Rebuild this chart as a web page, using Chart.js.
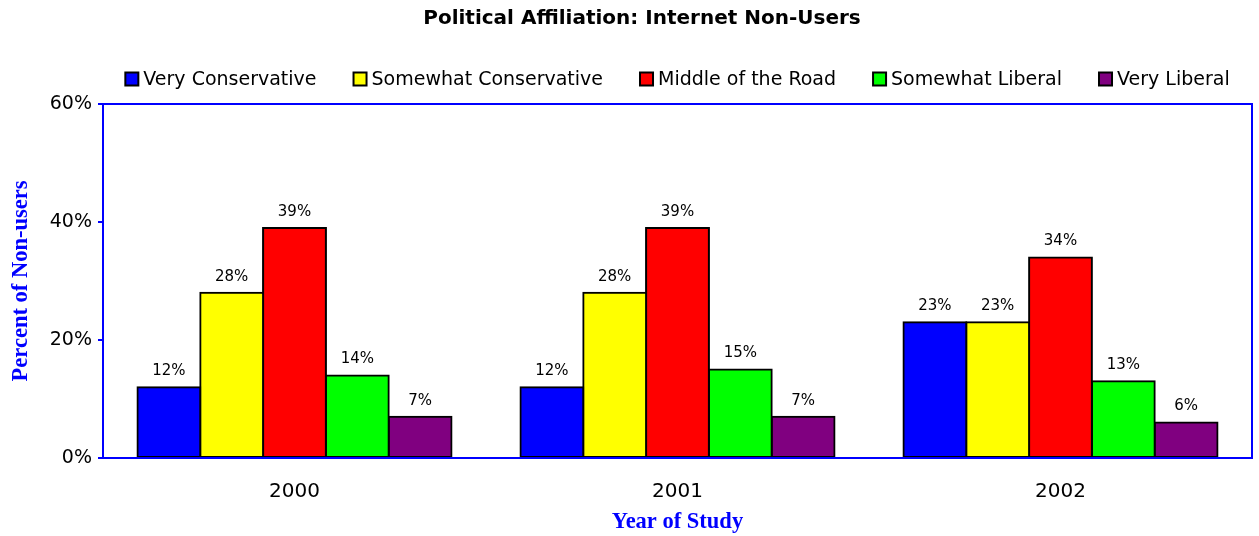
<!DOCTYPE html>
<html>
<head>
<meta charset="utf-8">
<script src="https://cdn.jsdelivr.net/npm/chart.js@4.4.1/dist/chart.umd.min.js"></script>
<style>
  html, body { margin: 0; padding: 0; background: #fff; }
  #wrap { width: 1259px; height: 536px; position: relative; }
</style>
</head>
<body>
<div id="wrap"><canvas id="c"></canvas></div>
<script>
// --- data ---
const years = ['2000', '2001', '2002'];
const seriesNames = ['Very Conservative', 'Somewhat Conservative', 'Middle of the Road', 'Somewhat Liberal', 'Very Liberal'];
const seriesColors = ['#0000ff', '#ffff00', '#ff0000', '#00ff00', '#800080'];
const veryConservative = [12, 12, 23];
const somewhatConservative = [28, 28, 23];
const middleOfRoad = [39, 39, 34];
const somewhatLiberal = [14, 15, 13];
const veryLiberal = [7, 7, 6];
const yTicks = [0, 20, 40, 60];

const TITLE = 'Political Affiliation: Internet Non-Users';
const SANS = '"DejaVu Sans", Verdana, sans-serif';
const SERIF = '"Liberation Serif", "Times New Roman", serif';
const BLUE = '#0000ff';

const values = [veryConservative, somewhatConservative, middleOfRoad, somewhatLiberal, veryLiberal];

// title + legend drawn by hand so they sit where the original puts them
const header = {
  id: 'header',
  afterDraw(chart) {
    const { ctx, chartArea } = chart;
    ctx.save();
    ctx.fillStyle = '#000';
    ctx.textBaseline = 'middle';
    ctx.textAlign = 'center';
    ctx.font = 'bold 20px ' + SANS;
    ctx.fillText(TITLE, 642, 19);

    ctx.font = '19px ' + SANS;
    ctx.textAlign = 'left';
    const box = 13, gapBox = 5, gapItem = 37;
    const widths = chart.data.datasets.map(d => box + gapBox + ctx.measureText(d.label).width);
    const total = widths.reduce((a, b) => a + b, 0) + gapItem * (widths.length - 1);
    let x = (chartArea.left + chartArea.right) / 2 - total / 2;
    const y = 79;
    chart.data.datasets.forEach((d, i) => {
      ctx.fillStyle = d.backgroundColor;
      ctx.fillRect(x, y - box / 2, box, box);
      ctx.lineWidth = 2;
      ctx.strokeStyle = '#000';
      ctx.strokeRect(x, y - box / 2, box, box);
      ctx.fillStyle = '#000';
      ctx.fillText(d.label, x + box + gapBox, y + 1);
      x += widths[i] + gapItem;
    });
    ctx.restore();
  }
};

// value labels above bars + blue frame of the plot area
const extras = {
  id: 'extras',
  afterDatasetsDraw(chart) {
    const { ctx, chartArea } = chart;
    ctx.save();
    ctx.font = '15px ' + SANS;
    ctx.fillStyle = '#000';
    ctx.textAlign = 'center';
    ctx.textBaseline = 'middle';
    chart.data.datasets.forEach((d, i) => {
      chart.getDatasetMeta(i).data.forEach((bar, j) => {
        ctx.fillText(d.data[j] + '%', bar.x, bar.y - 16);
      });
    });
    ctx.strokeStyle = BLUE;
    ctx.lineWidth = 2;
    ctx.strokeRect(chartArea.left, chartArea.top, chartArea.right - chartArea.left, chartArea.bottom - chartArea.top);
    ctx.restore();
  }
};

new Chart(document.getElementById('c'), {
  type: 'bar',
  data: {
    labels: years,
    datasets: seriesNames.map((name, i) => ({
      label: name,
      data: values[i],
      backgroundColor: seriesColors[i],
      borderColor: '#000',
      borderWidth: 2,
      borderSkipped: false,
      inflateAmount: 1,
      barPercentage: 1,
      categoryPercentage: 0.82
    }))
  },
  options: {
    responsive: true, maintainAspectRatio: false, animation: false,
    layout: { padding: { top: 104, right: 7, left: 0, bottom: 0 } },
    plugins: { legend: { display: false }, tooltip: { enabled: false } },
    scales: {
      x: {
        grid: { display: false },
        border: { display: false },
        ticks: { color: '#000', font: { family: SANS, size: 20 }, padding: 14 },
        title: { display: true, text: 'Year of Study', color: BLUE, font: { family: SERIF, size: 22.5, weight: 'bold' }, padding: { top: 11, bottom: 0 } },
        afterFit(s) { s.height = 78; }
      },
      y: {
        min: 0, max: 60,
        afterBuildTicks(s) { s.ticks = yTicks.map(v => ({ value: v })); },
        grid: { display: true, drawOnChartArea: false, drawTicks: true, tickLength: 5, color: BLUE, lineWidth: 2 },
        border: { display: false },
        ticks: { color: '#000', font: { family: SANS, size: 19 }, padding: 6, callback: v => v + '%' },
        title: { display: true, text: 'Percent of Non-users', color: BLUE, font: { family: SERIF, size: 22.5, weight: 'bold' }, padding: { top: 8, bottom: 0 } },
        afterFit(s) { s.width = 103; }
      }
    }
  },
  plugins: [header, extras]
});
</script>
</body>
</html>
